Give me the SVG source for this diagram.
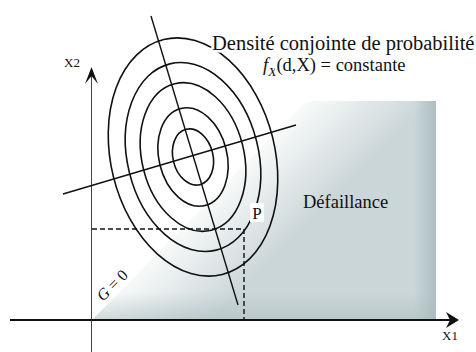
<svg xmlns="http://www.w3.org/2000/svg" width="476" height="352" viewBox="0 0 476 352">
<style>
.ell{fill:none;stroke:#111;stroke-width:1.6}
.ln{stroke:#111;stroke-width:1.4;fill:none}
.dash{stroke:#111;stroke-width:1.4;stroke-dasharray:5 3;fill:none}
.t{font-family:"Liberation Serif","Times New Roman",serif;fill:#111}
.halo{stroke:#fff;stroke-width:5;paint-order:stroke;stroke-linejoin:round}
</style>
<defs>
<linearGradient id="g1" gradientUnits="userSpaceOnUse" x1="206" y1="206" x2="266" y2="266">
<stop offset="0" stop-color="#f7f9f9"/>
<stop offset="1" stop-color="#cbd6d8"/>
</linearGradient>
<linearGradient id="g2" gradientUnits="userSpaceOnUse" x1="414" y1="0" x2="436" y2="0">
<stop offset="0" stop-color="#a9bcbf" stop-opacity="0"/>
<stop offset="1" stop-color="#a9bcbf" stop-opacity="0.9"/>
</linearGradient>
<linearGradient id="g3" gradientUnits="userSpaceOnUse" x1="0" y1="292" x2="0" y2="320">
<stop offset="0" stop-color="#a9bcbf" stop-opacity="0"/>
<stop offset="1" stop-color="#a9bcbf" stop-opacity="0.5"/>
</linearGradient>
</defs>
<g id="failure-region">
<path d="M92,320 L302,106 Q307,101 314,101 L436,101 L436,320 Z" fill="url(#g1)"/>
<path d="M92,320 L302,106 Q307,101 314,101 L436,101 L436,320 Z" fill="url(#g2)"/>
<path d="M92,320 L302,106 Q307,101 314,101 L436,101 L436,320 Z" fill="url(#g3)"/>
</g>
<g id="axes">
<line x1="91.5" y1="352" x2="91.5" y2="70" stroke="#444" stroke-width="1"/>
<path d="M91.5,67 L98,84 L91.5,76 L85,84 Z" fill="#111"/>
<line x1="10" y1="320" x2="452" y2="320" stroke="#111" stroke-width="1.8"/>
<path d="M459,320 L446,312 L450,320 L446,328 Z" fill="#111"/>
</g>
<g id="density-contours" transform="translate(193,157) rotate(-14)">
<ellipse class="ell" cx="0" cy="0" rx="82" ry="121"/>
<ellipse class="ell" cx="0" cy="0" rx="65.5" ry="96"/>
<ellipse class="ell" cx="0" cy="0" rx="51" ry="75.5"/>
<ellipse class="ell" cx="0" cy="0" rx="34" ry="50"/>
<ellipse class="ell" cx="0" cy="0" rx="20" ry="28.5"/>
</g>
<g id="connectors">
<line class="ln" x1="151" y1="16" x2="238" y2="305"/>
<line class="ln" x1="63" y1="194" x2="296" y2="125"/>
<polyline class="dash" points="92,229 244,229 244,320"/>
</g>
<g id="title">
<text class="t halo" x="212" y="50" font-size="20.5">Densité conjointe de probabilité</text>
<text class="t halo" x="263" y="71" font-size="18.5"><tspan font-style="italic">f</tspan><tspan font-style="italic" font-size="13.5" dy="5">X</tspan><tspan dy="-5">(d,X) = constante</tspan></text>
</g>
<g id="labels">
<text class="t" x="64" y="67" font-size="13">X2</text>
<text class="t" x="442" y="340" font-size="13">X1</text>
<text class="t" x="303" y="208" font-size="18.5">Défaillance</text>
<g id="point-P">
<rect x="250" y="203" width="14" height="19" fill="#fff"/>
<text class="t" x="257" y="219" font-size="17" text-anchor="middle">P</text>
</g>
<text class="t" x="0" y="0" font-size="16" transform="translate(116,289) rotate(-45)" text-anchor="middle"><tspan font-style="italic">G</tspan> = 0</text>
</g>
</svg>
